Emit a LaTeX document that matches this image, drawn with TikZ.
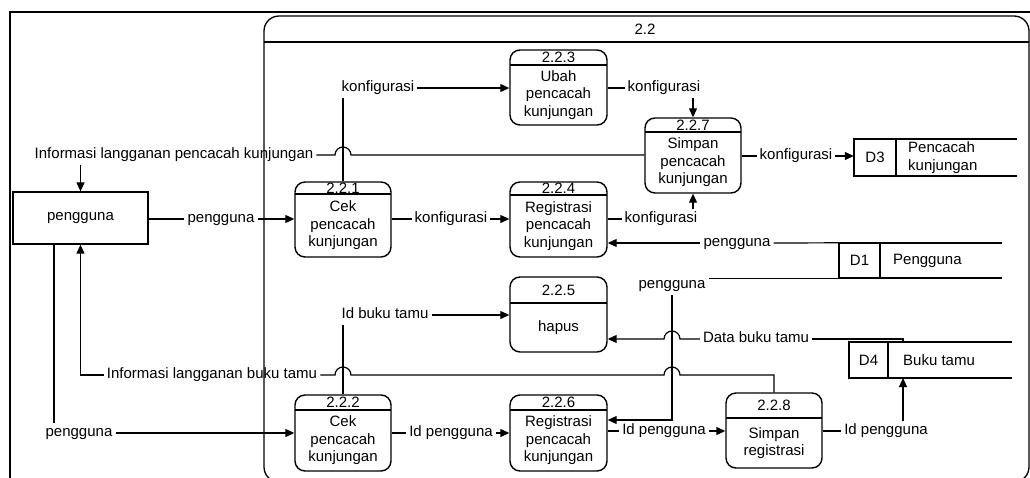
\documentclass[tikz,border=0pt]{standalone}
\usepackage{fontspec}
\setmainfont{Liberation Sans}
\usetikzlibrary{arrows.meta}

% process: name, x1, y1, x2, y2, header y, number, body
\newcommand{\dfdproc}[8]{%
  \node[procbox, minimum width={(#4-#2)*1pt}, minimum height={(#5-#3)*1pt}] (#1) at ({(#2+#4)/2},{(#3+#5)/2}) {};
  \draw[boxline] (#2,#6) -- (#4,#6);
  \node[inner sep=0pt] (#1n) at ({(#2+#4)/2},{(#3+#6)/2}) {#7};
  \node[align=center, inner sep=0pt] (#1t) at ({(#2+#4)/2},{(#6+#5)/2}) {#8};
}
% data store: name, x1, y1, x2, y2, divider x, text x, id, text
\newcommand{\dfdstore}[9]{%
  \node[minimum width={(#4-#2)*1pt}, minimum height={(#5-#3)*1pt}, inner sep=0pt] (#1) at ({(#2+#4)/2},{(#3+#5)/2}) {};
  \draw[storeline] (#1.north east) -- (#1.north west) -- (#1.south west) -- (#1.south east);
  \draw[storeline] (#6,#3) -- (#6,#5);
  \node[inner sep=0pt] (#1id) at ({(#2+#6)/2},{(#3+#5)/2}) {#8};
  \node[anchor=west, align=left, inner sep=0pt] (#1tx) at (#7,{(#3+#5)/2}) {#9};
}

\begin{document}
\begin{tikzpicture}[x=1pt, y=-1pt,
  font=\fontsize{15}{17.5}\selectfont,
  flow/.style={line width=1.2pt},
  arr/.style={flow, -{Triangle[length=9pt,width=8pt]}},
  lbl/.style={inner sep=3pt, text height=11pt, text depth=3.5pt},
  boxline/.style={line width=1.4pt},
  procbox/.style={draw, line width=1.4pt, rounded corners=10pt, inner sep=0pt},
  storeline/.style={line width=1.6pt},
  hop/.style={}
]
\useasboundingbox (0,0) rectangle (1030,477);
\clip (0,0) rectangle (1030,477);

% outer frame
\draw[line width=2pt] (10,12) rectangle (1050,500);

% process 2.2 container
\draw[line width=1.3pt, rounded corners=15pt] (264,16) rectangle (1029,482);
\draw[line width=1.3pt] (264,42) -- (1029,42);
\node (c22) at (645,29) {2.2};

% external entity
\node[draw, line width=1.3pt, minimum width=135pt, minimum height=52pt, inner sep=0pt] (ent) at (80.5,218) {pengguna};

% processes
\dfdproc{p223}{510}{50}{607}{125}{65}{2.2.3}{Ubah\\pencacah\\kunjungan}
\dfdproc{p221}{295}{182}{391}{257}{194}{2.2.1}{Cek\\pencacah\\kunjungan}
\dfdproc{p224}{510}{182}{607}{257}{195}{2.2.4}{Registrasi\\pencacah\\kunjungan}
\dfdproc{p227}{645}{118}{741}{193}{132}{2.2.7}{Simpan\\pencacah\\kunjungan}
\dfdproc{p225}{510}{277}{607}{352}{303}{2.2.5}{hapus}
\dfdproc{p222}{295}{395}{391}{471}{410}{2.2.2}{Cek\\pencacah\\kunjungan}
\dfdproc{p226}{510}{395}{607}{471}{410}{2.2.6}{Registrasi\\pencacah\\kunjungan}
\dfdproc{p228}{726}{393}{822}{468}{418}{2.2.8}{Simpan\\registrasi}

% data stores
\dfdstore{d3}{854}{139}{1017}{176}{896}{908}{D3}{Pencacah\\kunjungan}
\dfdstore{d1}{839}{243}{1002}{278}{880}{893}{D1}{Pengguna}
\dfdstore{d4}{849}{342}{1012}{378}{888}{903}{D4}{Buku tamu}

% flow labels
\node[lbl] (l1) at (174,155) {Informasi langganan pencacah kunjungan};
\node[lbl] (l2) at (378,88) {konfigurasi};
\node[lbl] (l3) at (221,219) {pengguna};
\node[lbl] (l4) at (451,219) {konfigurasi};
\node[lbl] (l5) at (664,88) {konfigurasi};
\node[lbl] (l6) at (661,219) {konfigurasi};
\node[lbl] (l7) at (796,156) {konfigurasi};
\node[lbl] (l8) at (737,243) {pengguna};
\node[lbl] (l9) at (672,285) {pengguna};
\node[lbl] (l10) at (756,339) {Data buku tamu};
\node[lbl] (l11) at (385,315) {Id buku tamu};
\node[lbl] (l12) at (212,375) {Informasi langganan buku tamu};
\node[lbl] (l13) at (79,433) {pengguna};
\node[lbl] (l14) at (451,433) {Id pengguna};
\node[lbl] (l15) at (664,431) {Id pengguna};
\node[lbl] (l16) at (886,431) {Id pengguna};

% bend points
\coordinate (d4top) at (903,342);
\coordinate (d4bot) at (903,378);
\coordinate (d1down) at (672,420);
\coordinate (p228up) at (774,375);

% upper part
\draw[flow] (ent.east |- l3.west) -- (l3.west);
\draw[arr] (l3.east) -- (p221.west |- l3.east);
\draw[flow] (p221.east |- l4.west) -- (l4.west);
\draw[arr] (l4.east) -- (p224.west |- l4.east);
\draw[flow] (p221.north) -- (p221.north |- l2.south);
\draw[arr] (l2.east) -- (p223.west |- l2.east);
\draw[flow] (p223.east |- l5.west) -- (l5.west);
\draw[arr] (l5.south -| p227.north) -- (p227.north);
\draw[flow] (p224.east |- l6.west) -- (l6.west);
\draw[arr] (l6.north -| p227.south) -- (p227.south);
\draw[flow] (p227.east |- l7.west) -- (l7.west);
\draw[arr] (l7.east) -- (d3.west |- l7.east);
\draw[flow] (l1.east -| p227.west) -- (351,155) arc[start angle=0, end angle=180, radius=8pt] -- (l1.east);
\draw[arr] (l1.south -| ent.north) -- (ent.north);

% store D1
\draw[flow] (d1.north west) -- (l8.east);
\draw[arr] (l8.west) -- (p224.east |- l8.west);
\draw[flow] (d1.south west) -- (d1.south west -| l9.east);
\draw[arr] (l9.south) -- (d1down) -- (p226.east |- d1down);

% store D4
\draw[flow] (d4top) -- (d4top |- l10.east) -- (l10.east);
\draw[arr] (l10.west) -- (680,339) arc[start angle=0, end angle=180, radius=8pt] -- (p225.east |- l10.west);
\draw[flow] (p222.north) -- (p222.north |- l11.south);
\draw[arr] (l11.east) -- (p225.west |- l11.east);
\draw[flow] (p228.north) -- (p228up) -- (680,375) arc[start angle=0, end angle=180, radius=8pt]
  -- (351,375) arc[start angle=0, end angle=180, radius=8pt] -- (l12.east);
\draw[arr] (l12.west) -- (l12.west -| ent.south) -- (ent.south);

% lower row
\draw[flow] (ent.south -| 54,0) -- (l13.north -| 54,0);
\draw[arr] (l13.east) -- (p222.west |- l13.east);
\draw[flow] (p222.east |- l14.west) -- (l14.west);
\draw[arr] (l14.east) -- (p226.west |- l14.east);
\draw[flow] (p226.east |- l15.west) -- (l15.west);
\draw[arr] (l15.east) -- (p228.west |- l15.east);
\draw[flow] (p228.east |- l16.west) -- (l16.west);
\draw[arr] (l16.north -| d4bot) -- (d4bot);
\end{tikzpicture}
\end{document}
